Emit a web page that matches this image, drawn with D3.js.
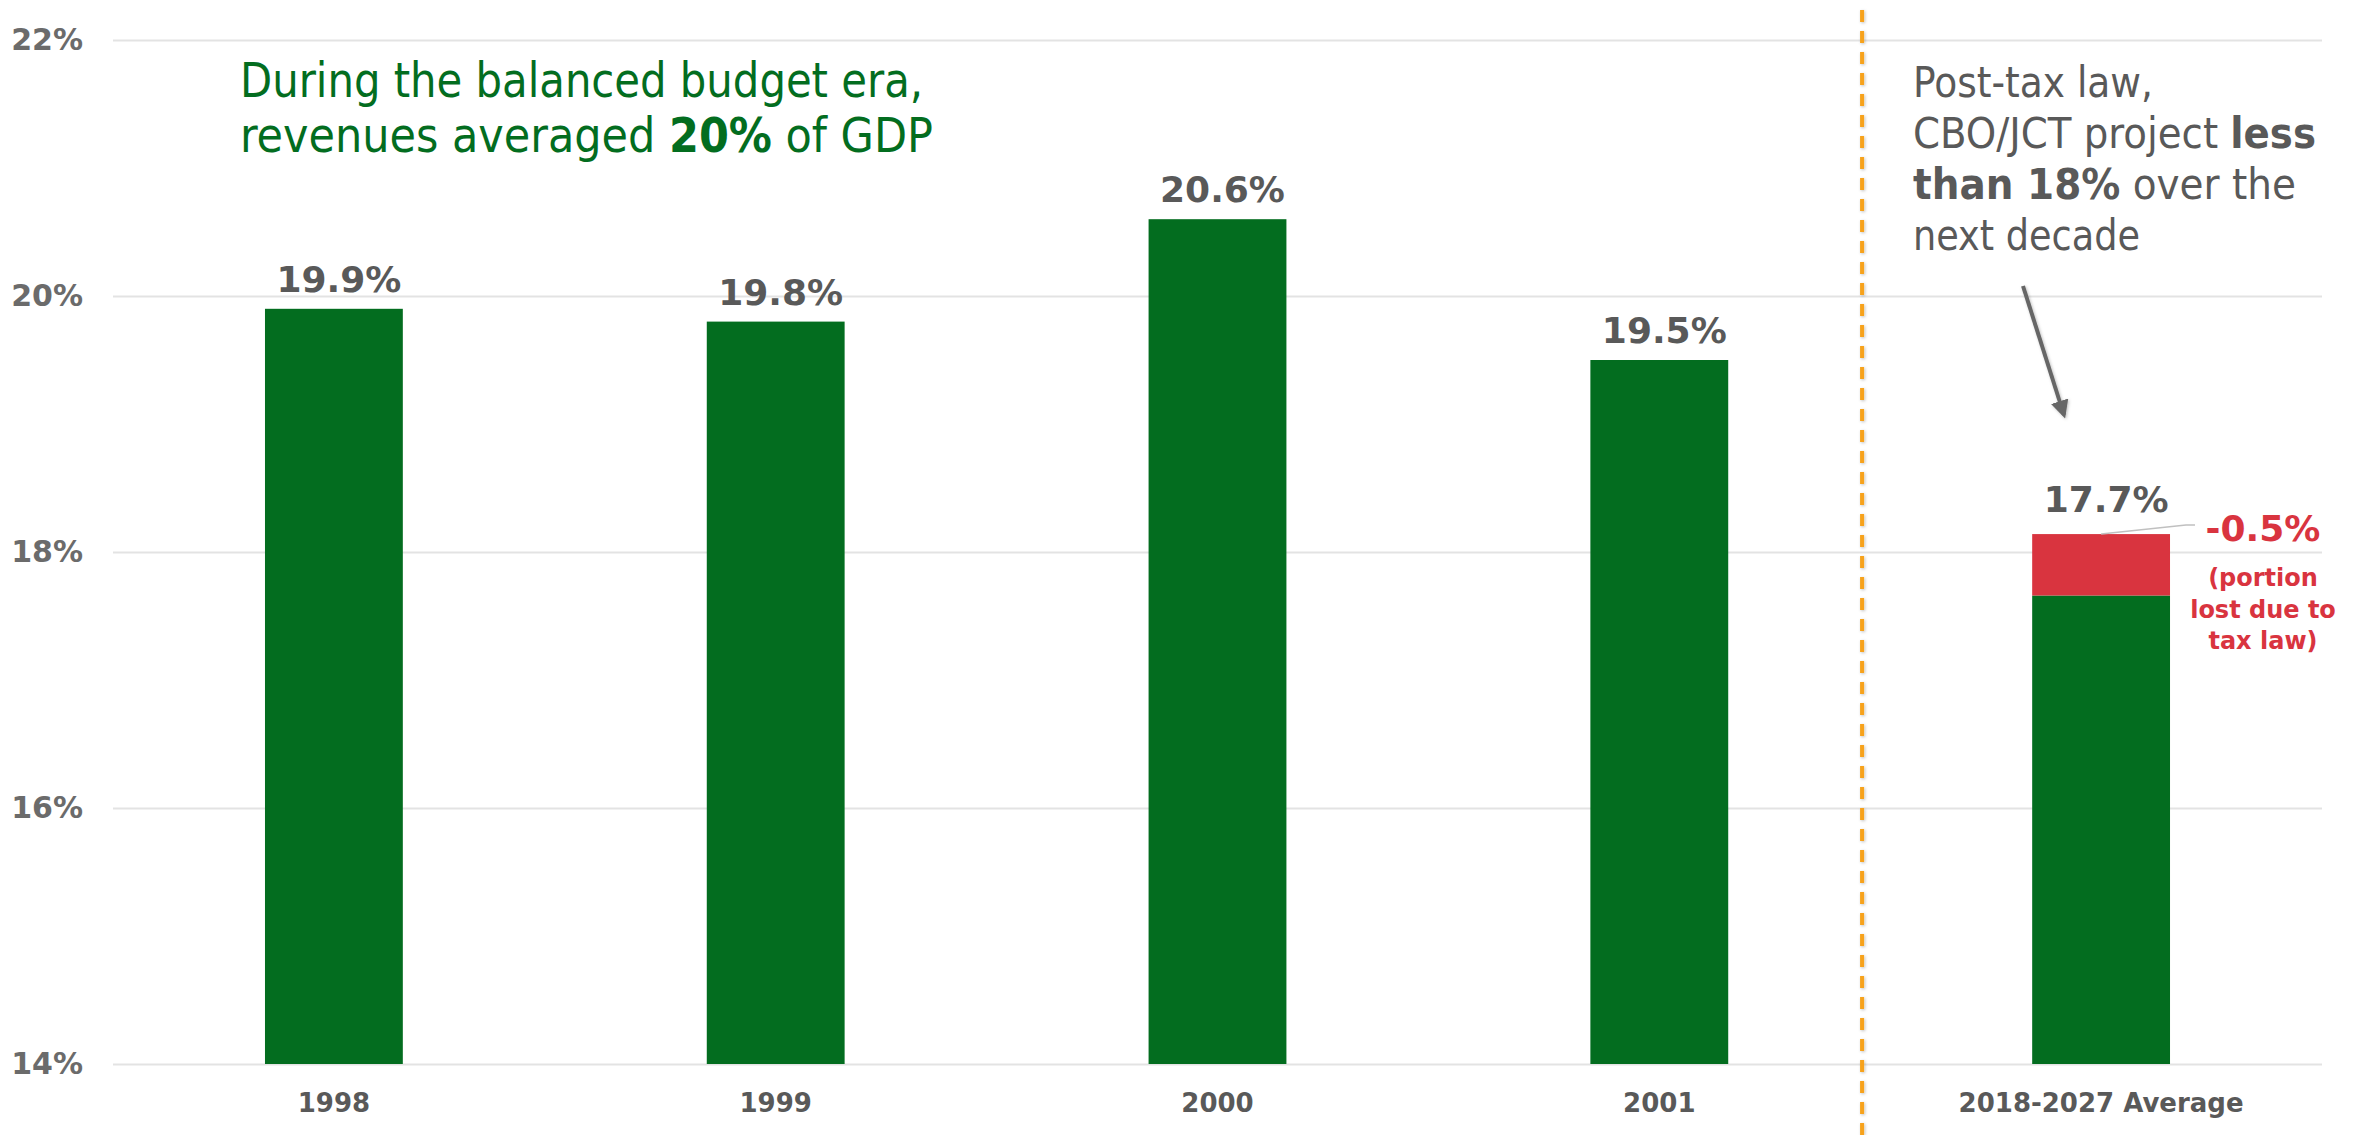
<!DOCTYPE html>
<html>
<head>
<meta charset="utf-8">
<script src="https://cdn.jsdelivr.net/npm/d3@7"></script>
<style>
  body { margin: 0; background: #fff; }
  svg { display: block; }
</style>
</head>
<body>
<div id="chart"></div>
<script>
// revenue as share of GDP
var categories = ['1998', '1999', '2000', '2001', '2018-2027 Average']
var revenues = [19.9, 19.8, 20.6, 19.5, 17.66]
var lostToTaxLaw = [0, 0, 0, 0, 0.48]
var yTicks = [14, 16, 18, 20, 22]

var width = 2362
var height = 1135
var margin = { top: 40, right: 40, bottom: 71, left: 113 }

var GREEN = '#036d1f'
var RED = '#d9343f'
var GREY = '#595959'

var svg = d3.select('#chart')
  .append('svg')
  .attr('width', width)
  .attr('height', height)

var defs = svg.append('defs')
var shadow = defs.append('filter')
  .attr('id', 'shadow')
  .attr('filterUnits', 'userSpaceOnUse')
  .attr('x', 0).attr('y', 0)
  .attr('width', width).attr('height', height)
shadow.append('feDropShadow')
  .attr('dx', 1).attr('dy', 1)
  .attr('stdDeviation', 1.5)
  .attr('flood-color', '#000')
  .attr('flood-opacity', 0.25)

defs.append('marker')
  .attr('id', 'arrowhead')
  .attr('markerUnits', 'userSpaceOnUse')
  .attr('viewBox', '0 0 10 10')
  .attr('refX', 8).attr('refY', 5)
  .attr('markerWidth', 18).attr('markerHeight', 18)
  .attr('orient', 'auto')
  .append('path')
  .attr('d', 'M0,0 L10,5 L0,10 z')
  .attr('fill', '#666')

var x = d3.scaleBand()
  .domain(categories)
  .range([margin.left, width - margin.right])
  .paddingInner(0.688)
  .paddingOuter(0.344)

var y = d3.scaleLinear()
  .domain([14, 22])
  .range([height - margin.bottom, margin.top])

// gridlines + y labels
var yAxis = d3.axisLeft(y)
  .tickValues(yTicks)
  .tickFormat(function (d) { return d + '%' })
  .tickSize(-(width - margin.left - margin.right))
  .tickPadding(30)

svg.append('g')
  .attr('transform', 'translate(' + margin.left + ',0)')
  .call(yAxis)
  .call(function (g) { g.select('.domain').remove() })
  .call(function (g) {
    g.selectAll('.tick line').attr('stroke', '#e3e3e3').attr('stroke-width', 2)
    g.selectAll('.tick text')
      .attr('fill', '#6b6b6b')
      .attr('font-family', 'DejaVu Sans, Verdana, sans-serif')
      .attr('font-weight', 'bold')
      .attr('font-size', 30)
  })

// x labels
var xAxis = d3.axisBottom(x).tickSize(0).tickPadding(30)
svg.append('g')
  .attr('transform', 'translate(0,' + (height - margin.bottom) + ')')
  .call(xAxis)
  .call(function (g) { g.select('.domain').remove() })
  .call(function (g) {
    g.selectAll('.tick text')
      .attr('fill', GREY)
      .attr('font-family', 'DejaVu Sans, Verdana, sans-serif')
      .attr('font-weight', 'bold')
      .attr('font-size', 26)
  })

var rows = categories.map(function (c, i) {
  return { cat: c, value: revenues[i], lost: lostToTaxLaw[i] }
})

var bars = svg.append('g')
bars.selectAll('rect.rev')
  .data(rows)
  .enter().append('rect')
  .attr('class', 'rev')
  .attr('x', function (d) { return x(d.cat) })
  .attr('width', x.bandwidth())
  .attr('y', function (d) { return y(d.value) })
  .attr('height', function (d) { return y(14) - y(d.value) })
  .attr('fill', GREEN)

bars.selectAll('rect.lost')
  .data(rows.filter(function (d) { return d.lost > 0 }))
  .enter().append('rect')
  .attr('class', 'lost')
  .attr('x', function (d) { return x(d.cat) })
  .attr('width', x.bandwidth())
  .attr('y', function (d) { return y(d.value + d.lost) })
  .attr('height', function (d) { return y(d.value) - y(d.value + d.lost) })
  .attr('fill', RED)

function fmt (v) { return v.toFixed(1) }

svg.append('g').selectAll('text')
  .data(rows)
  .enter().append('text')
  .attr('x', function (d) { return x(d.cat) + x.bandwidth() / 2 + 5 })
  .attr('y', function (d) { return y(d.value + d.lost) - (d.lost > 0 ? 22 : 17) })
  .attr('text-anchor', 'middle')
  .attr('fill', GREY)
  .attr('font-family', 'DejaVu Sans, Verdana, sans-serif')
  .attr('font-weight', 'bold')
  .attr('font-size', 36)
  .text(function (d) { return fmt(d.value) + '%' })

// divider between history and projection
var last = categories[categories.length - 1]
var divX = x(last) - x.step() * 0.385
svg.append('line')
  .attr('x1', divX).attr('x2', divX)
  .attr('y1', 10).attr('y2', height)
  .attr('stroke', '#f7a21b')
  .attr('stroke-width', 4)
  .attr('stroke-dasharray', '12 9')
  .attr('filter', 'url(#shadow)')

// lost-portion callout
var lostRow = rows[rows.length - 1]
var calloutX = 2263
var lostTop = y(lostRow.value + lostRow.lost)
svg.append('path')
  .attr('d', d3.line()([
    [x(last) + x.bandwidth() / 2, lostTop],
    [calloutX - 77, lostTop - 9],
    [calloutX - 68, lostTop - 9]
  ]))
  .attr('fill', 'none')
  .attr('stroke', '#c0c0c0')
  .attr('stroke-width', 1.5)

svg.append('text')
  .attr('x', calloutX)
  .attr('y', lostTop + 7)
  .attr('text-anchor', 'middle')
  .attr('fill', RED)
  .attr('font-family', 'DejaVu Sans, Verdana, sans-serif')
  .attr('font-weight', 'bold')
  .attr('font-size', 36)
  .text('-' + fmt(lostRow.lost) + '%')

var lostNote = ['(portion', 'lost due to', 'tax law)']
svg.append('g').selectAll('text')
  .data(lostNote)
  .enter().append('text')
  .attr('x', calloutX)
  .attr('y', function (d, i) { return lostTop + 52 + i * 31.5 })
  .attr('text-anchor', 'middle')
  .attr('fill', RED)
  .attr('font-family', 'DejaVu Sans, Verdana, sans-serif')
  .attr('font-weight', 'bold')
  .attr('font-size', 24)
  .text(function (d) { return d })

// annotations
function richText (lines, opts) {
  var g = svg.append('g')
  lines.forEach(function (parts, i) {
    var t = g.append('text')
      .attr('x', opts.x)
      .attr('y', opts.y + i * opts.lineHeight)
      .attr('fill', opts.color)
      .attr('font-family', 'DejaVu Sans Condensed, DejaVu Sans, sans-serif')
      .attr('font-stretch', 'condensed')
      .attr('font-size', opts.size)
      .attr('textLength', opts.widths[i])
      .attr('lengthAdjust', 'spacingAndGlyphs')
    parts.forEach(function (p) {
      t.append('tspan')
        .attr('font-weight', p.bold ? 'bold' : 'normal')
        .text(p.text)
    })
  })
}

richText([
  [{ text: 'During the balanced budget era,' }],
  [{ text: 'revenues averaged ' }, { text: '20%', bold: true }, { text: ' of GDP' }]
], { x: 240, y: 97, lineHeight: 55, size: 48, color: GREEN, widths: [683, 693] })

richText([
  [{ text: 'Post-tax law,' }],
  [{ text: 'CBO/JCT project ' }, { text: 'less', bold: true }],
  [{ text: 'than 18%', bold: true }, { text: ' over the' }],
  [{ text: 'next decade' }]
], { x: 1913, y: 97, lineHeight: 51, size: 42, color: GREY, widths: [240, 403, 383, 227] })

svg.append('line')
  .attr('x1', 2023).attr('y1', 286)
  .attr('x2', 2064).attr('y2', 415)
  .attr('stroke', '#666')
  .attr('stroke-width', 4)
  .attr('marker-end', 'url(#arrowhead)')
  .attr('filter', 'url(#shadow)')
</script>
</body>
</html>
